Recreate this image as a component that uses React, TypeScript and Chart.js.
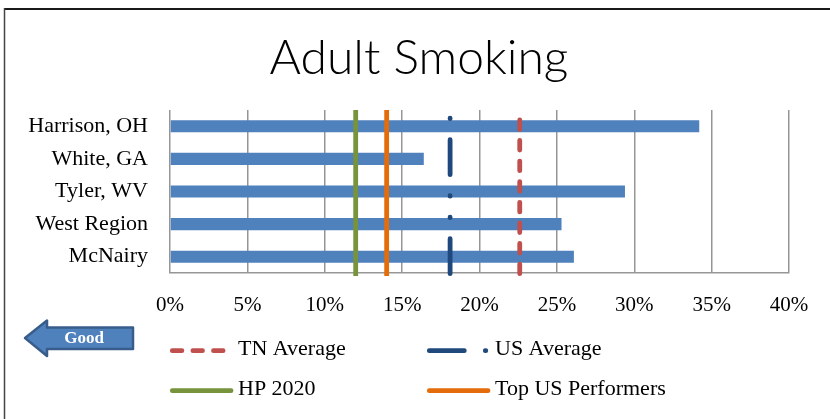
import React, { useEffect, useRef } from "react";
import { Chart, registerables } from "chart.js";

Chart.register(...registerables);

const chartTitle = "Adult Smoking";
const categories = ["Harrison, OH", "White, GA", "Tyler, WV", "West Region", "McNairy"];
const smokingRates = [34.2, 16.4, 29.4, 25.3, 26.1];
const xTickValues = [0, 5, 10, 15, 20, 25, 30, 35, 40];
const refNames = ["TN Average", "US Average", "HP 2020", "Top US Performers"];
const refValues = [22.6, 18.1, 12.0, 14.0];
const arrowLabel = "Good";

const refStyles = [
  { color: "#c0504d", dash: [9.6, 11], cap: "round" },
  { color: "#1f497d", dash: [35, 21, 0.5, 21, 0.5, 21], cap: "round" },
  { color: "#77933c", dash: [], cap: "butt" },
  { color: "#e46c0a", dash: [], cap: "butt" },
];
const legendSlots = [
  { x: 170, y: 350.7, ty: 349.5 },
  { x: 427, y: 350.7, ty: 349.5 },
  { x: 170, y: 390.7, ty: 389.5 },
  { x: 427, y: 390.7, ty: 389.5 },
];

const SERIF = "'Liberation Serif', 'Times New Roman', serif";

const decorPlugin = {
  id: "decor",
  beforeDraw(chart: any) {
    const { ctx, width, height } = chart;
    ctx.save();
    ctx.fillStyle = "#ffffff";
    ctx.fillRect(0, 0, width, height);
    // frame
    ctx.strokeStyle = "#1a1a1a";
    ctx.lineWidth = 2;
    ctx.beginPath();
    ctx.moveTo(4, 9);
    ctx.lineTo(width, 9);
    ctx.stroke();
    ctx.strokeStyle = "#444444";
    ctx.lineWidth = 1.5;
    ctx.beginPath();
    ctx.moveTo(4.5, 8);
    ctx.lineTo(4.5, height);
    ctx.stroke();
    // title
    ctx.fillStyle = "#000000";
    ctx.font = "300 48px Lato, 'Liberation Sans', sans-serif";
    ctx.textAlign = "center";
    ctx.textBaseline = "middle";
    ctx.fillText(chartTitle, 419, 59);
    ctx.restore();
  },
  afterDatasetsDraw(chart: any) {
    const { ctx, chartArea, scales } = chart;
    const x = scales.x;
    refValues.forEach((v, i) => {
      const st = refStyles[i];
      const px = x.getPixelForValue(v);
      ctx.save();
      ctx.strokeStyle = st.color;
      ctx.lineWidth = 4.8;
      ctx.lineCap = st.cap;
      ctx.setLineDash(st.dash);
      ctx.beginPath();
      if (st.dash.length) {
        ctx.moveTo(px, chartArea.bottom + 0.7);
      } else {
        ctx.moveTo(px, chartArea.bottom + 3);
      }
      ctx.lineTo(px, chartArea.top);
      ctx.stroke();
      ctx.restore();
    });
  },
  afterDraw(chart: any) {
    const { ctx } = chart;
    // legend
    refNames.forEach((name, i) => {
      const st = refStyles[i];
      const slot = legendSlots[i];
      ctx.save();
      ctx.strokeStyle = st.color;
      ctx.lineWidth = 4.8;
      ctx.lineCap = "round";
      ctx.setLineDash(st.dash);
      ctx.beginPath();
      ctx.moveTo(slot.x + 2.3, slot.y);
      ctx.lineTo(slot.x + 61, slot.y);
      ctx.stroke();
      ctx.setLineDash([]);
      ctx.fillStyle = "#000000";
      ctx.font = `22px ${SERIF}`;
      ctx.textAlign = "left";
      ctx.textBaseline = "middle";
      ctx.fillText(name, slot.x + 68, slot.ty);
      ctx.restore();
    });
    // "Good" arrow
    ctx.save();
    ctx.beginPath();
    ctx.moveTo(25, 338);
    ctx.lineTo(47, 320.5);
    ctx.lineTo(47, 327.5);
    ctx.lineTo(133, 327.5);
    ctx.lineTo(133, 349);
    ctx.lineTo(47, 349);
    ctx.lineTo(47, 356);
    ctx.closePath();
    ctx.fillStyle = "#4f81bd";
    ctx.fill();
    ctx.strokeStyle = "#385d8a";
    ctx.lineWidth = 2.5;
    ctx.lineJoin = "round";
    ctx.stroke();
    ctx.fillStyle = "#ffffff";
    ctx.font = `bold 17px ${SERIF}`;
    ctx.textAlign = "center";
    ctx.textBaseline = "middle";
    ctx.fillText(arrowLabel, 84, 338.5);
    ctx.restore();
  },
};

export default function App() {
  const ref = useRef<HTMLCanvasElement | null>(null);
  useEffect(() => {
    if (!ref.current) return;
    const chart = new Chart(ref.current, {
      type: "bar",
      data: {
        labels: categories,
        datasets: [
          {
            label: "Adult Smoking",
            data: smokingRates,
            backgroundColor: "#4f81bd",
            borderWidth: 0,
            barPercentage: 0.37,
            categoryPercentage: 1,
          },
        ],
      },
      options: {
        indexAxis: "y",
        responsive: false,
        animation: false,
        devicePixelRatio: 1,
        layout: { padding: { top: 110, right: 41, bottom: 0, left: 0 } },
        plugins: {
          legend: { display: false },
          tooltip: { enabled: false },
          title: { display: false },
        },
        scales: {
          x: {
            min: 0,
            max: 40,
            afterBuildTicks: (scale: any) => {
              scale.ticks = xTickValues.map((v) => ({ value: v }));
            },
            ticks: {
              callback: (v: any) => `${v}%`,
              font: { family: SERIF, size: 21 },
              color: "#000000",
              padding: 20,
              autoSkip: false,
              maxRotation: 0,
            },
            grid: { color: "#969696", lineWidth: 1.5, drawTicks: false },
            border: { color: "#969696", width: 1.5 },
            afterFit: (s: any) => {
              s.height = 146;
            },
          },
          y: {
            ticks: {
              font: { family: SERIF, size: 22 },
              color: "#000000",
              padding: 22,
            },
            grid: { display: false, drawTicks: false },
            border: { display: false },
            afterFit: (s: any) => {
              s.width = 170;
            },
          },
        },
      },
      plugins: [decorPlugin],
    } as any);
    return () => chart.destroy();
  }, []);
  return (
    <canvas
      ref={ref}
      width={830}
      height={419}
      style={{ position: "fixed", left: 0, top: 0, width: 830, height: 419 }}
    />
  );
}
